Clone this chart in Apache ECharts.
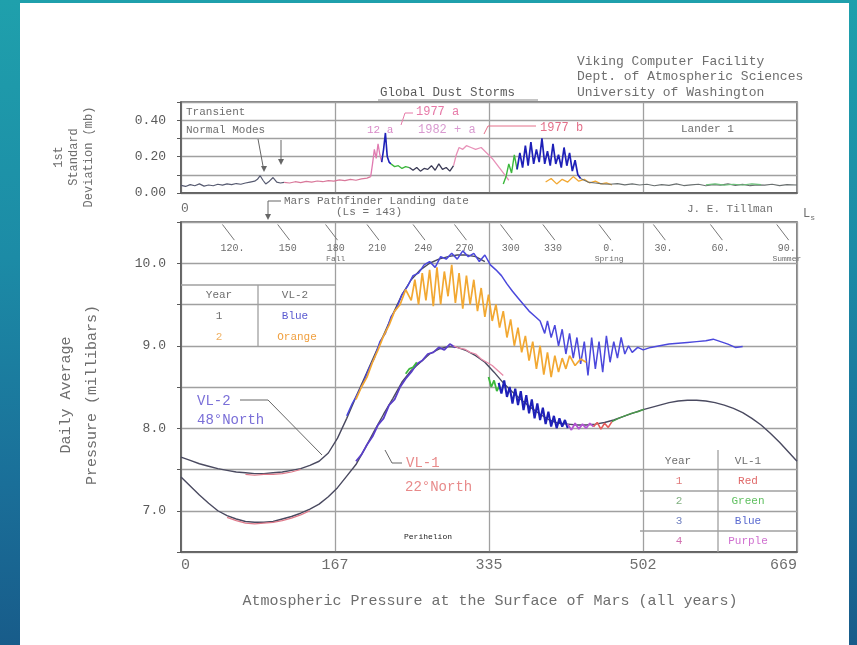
<!DOCTYPE html>
<html><head><meta charset="utf-8">
<script src="https://cdn.jsdelivr.net/npm/echarts@6/dist/echarts.min.js"></script>
<style>
html,body{margin:0;padding:0;width:857px;height:645px;overflow:hidden;}
body{background:linear-gradient(180deg,#1fa0ac 0%,#1c8ba6 40%,#1a6f99 75%,#185c8a 100%);position:relative;}
#paper{position:absolute;left:20px;top:3px;width:829px;height:642px;background:#fff;}
#chart{position:absolute;left:0;top:0;width:857px;height:645px;}
</style></head><body>
<div id="paper"></div><div id="chart"></div>
<script>
// ---------- data ----------
const solMax = 669;
const lsSols = [56, 116, 168, 213, 263, 308, 358, 404, 465, 524, 586, 658];
const lsLabels = ['120.', '150', '180', '210', '240', '270', '300', '330', '0.', '30.', '60.', '90.'];
const lsSeasons = ['', '', 'Fall', '', '', '', '', '', 'Spring', '', '', 'Summer'];

// VL-2 (48 N) daily average pressure, mb
const vl2BaseSol = [0,10,20,30,40,50,60,70,80,90,100,110,120,130,140,150,160,170,180,190,200,210,220,230,240,250,260,270,280,290,300,310,320,330];
const vl2BaseP = [7.65,7.61,7.57,7.54,7.51,7.49,7.47,7.46,7.45,7.45,7.46,7.47,7.49,7.51,7.55,7.60,7.70,7.88,8.12,8.38,8.63,8.88,9.13,9.38,9.62,9.80,9.92,10.0,10.05,10.08,10.1,10.1,10.08,10.02];
const vl2PinkSol = [70,80,90,100,110,120,130];
const vl2PinkP = [7.44,7.43,7.44,7.44,7.45,7.47,7.5];
const vl2Year1Sol = [180,186,192,198,204,210,216,222,228,234,240,246,252,258,264,270,276,282,288,294,300,306,312,318,324,330,336,342,348,354,360,366,372,378,384,390,395,398,402,406,410,414,418,422,426,430,434,438,442,446,450,454,458,462,466,470,474,478,482,486,490,496,502,510,520,530,540,550,560,570,578,586,594,602,610];
const vl2Year1P = [8.15,8.3,8.42,8.55,8.72,8.85,9.05,9.15,9.35,9.45,9.62,9.72,9.85,9.88,9.98,10.02,9.95,10.08,10.05,10.12,10.05,10.15,10.08,10.12,10.02,10.1,9.98,9.92,9.85,9.75,9.66,9.58,9.5,9.42,9.36,9.3,9.15,9.3,9.1,9.25,9.0,9.2,8.9,9.15,8.85,9.1,8.78,9.05,8.64,9.1,8.72,9.05,8.68,9.12,8.8,9.05,8.85,9.1,8.9,9.0,8.92,8.98,8.95,8.98,9.0,9.02,9.03,9.04,9.05,9.06,9.08,9.05,9.02,8.98,8.99];
const vl2Year2Sol = [190,196,202,208,214,220,226,232,238,244,250,254,258,262,266,270,274,278,282,286,290,294,298,302,306,310,314,318,322,326,330,334,338,342,346,350,354,358,362,366,370,374,378,382,386,390,394,398,402,406,410,414,418,422,428,434,440];
const vl2Year2P = [8.35,8.5,8.62,8.8,8.95,9.12,9.25,9.42,9.5,9.68,9.55,9.8,9.5,9.88,9.55,9.92,9.48,9.95,9.5,9.9,9.6,9.98,9.52,9.88,9.45,9.85,9.5,9.8,9.42,9.7,9.35,9.62,9.3,9.5,9.22,9.42,9.1,9.32,9.0,9.22,8.92,9.12,8.82,9.05,8.72,9.0,8.65,8.92,8.62,8.88,8.68,8.85,8.72,8.88,8.76,8.84,8.8];

// VL-1 (22 N)
const vl1BaseSol = [0,10,20,30,40,50,60,70,80,90,100,110,120,130,140,150,160,170,180,190,200,210,220,230,240,250,260,270,280,290,300,310,320,330,340,350,360,370,380,390,400,410,420,430,440,450,460,470,480,490,500,510,520,530,540,550,560,570,580,590,600,610,620,630,640,650,660,669];
const vl1BaseP = [7.41,7.3,7.19,7.09,7.0,6.94,6.9,6.87,6.86,6.86,6.87,6.9,6.93,6.97,7.02,7.08,7.17,7.28,7.42,7.56,7.76,7.97,8.17,8.36,8.56,8.7,8.8,8.9,8.96,8.99,8.98,8.94,8.88,8.8,8.68,8.55,8.44,8.34,8.25,8.17,8.1,8.06,8.05,8.04,8.04,8.05,8.07,8.1,8.14,8.18,8.22,8.25,8.28,8.31,8.33,8.34,8.34,8.33,8.31,8.28,8.24,8.19,8.12,8.04,7.94,7.83,7.71,7.6];
const vl1PinkSol = [50,60,70,80,90,100,110,120,130,140];
const vl1PinkP = [6.92,6.88,6.85,6.84,6.85,6.86,6.88,6.91,6.95,7.0];
const vl1PurpleASol = [190,196,202,208,214,220,226,232,238,244,250,256,262,268,274,280,286,292,298];
const vl1PurpleAP = [7.6,7.68,7.8,7.9,8.04,8.12,8.28,8.35,8.5,8.6,8.68,8.78,8.82,8.9,8.92,8.98,8.95,9.02,8.98];
const vl1GreenASol = [244,248,252,256];
const vl1GreenAP = [8.66,8.72,8.74,8.8];
const vl1RedASol = [296,302,308,314,320,326,332,338,344,350];
const vl1RedAP = [9.0,8.97,8.96,8.92,8.9,8.84,8.8,8.76,8.7,8.64];
const vl1GreenBSol = [334,337,340,343,346];
const vl1GreenBP = [8.62,8.5,8.58,8.45,8.52];
const vl1BlueSol = [345,348,351,354,357,360,363,366,369,372,375,378,381,384,387,390,393,396,399,402,405,408,411,414,417,420];
const vl1BlueP = [8.55,8.42,8.58,8.38,8.5,8.3,8.48,8.28,8.45,8.22,8.4,8.18,8.35,8.12,8.3,8.1,8.25,8.05,8.2,8.02,8.15,8.0,8.12,8.02,8.1,8.0];
const vl1PurpleBSol = [420,424,428,432,436,440,444,448];
const vl1PurpleBP = [8.05,7.98,8.06,7.99,8.05,8.0,8.06,8.02];
const vl1RedBSol = [448,452,456,460,464,468];
const vl1RedBP = [8.02,8.07,7.99,8.06,8.01,8.08];
const vl1GreenCSol = [468,475,482,489,496,503];
const vl1GreenCP = [8.08,8.12,8.15,8.18,8.2,8.23];

// Lander 1 standard deviation, mb
const stdGrayASol = [0,5,10,15,20,25,30,35,40,45,50,55,60,65,70,75,80,83,86,89,92,96,100,104,108,112];
const stdGrayAV = [.042,.036,.046,.04,.05,.038,.044,.04,.048,.043,.05,.046,.052,.048,.055,.06,.065,.075,.095,.07,.05,.065,.085,.06,.055,.058];
const stdRedSol = [112,118,124,130,136,142,148,154,160,166,172,178,184,190,196,202,206];
const stdRedV = [.058,.055,.062,.057,.064,.06,.066,.062,.068,.065,.072,.068,.075,.07,.078,.082,.09];
const stdPinkASol = [206,208,210,212,214,216,218];
const stdPinkAV = [.09,.16,.24,.19,.27,.21,.17];
const stdBlueASol = [218,220,222,224,226,228];
const stdBlueAV = [.17,.24,.33,.2,.17,.16];
const stdGreenASol = [228,232,236,240,244,248];
const stdGreenAV = [.16,.145,.15,.135,.145,.14];
const stdDarkSol = [248,252,256,260,264,268,272,276,280,284,288,292,296];
const stdDarkV = [.14,.125,.14,.12,.135,.13,.15,.125,.16,.13,.14,.12,.15];
const stdPinkBSol = [296,299,302,306,310,315,320,326,332,338,344,350,356];
const stdPinkBV = [.15,.21,.25,.24,.26,.25,.24,.25,.22,.19,.15,.11,.07];
const stdGreenBSol = [350,353,356,359,362,365];
const stdGreenBV = [.05,.09,.16,.11,.21,.13];
const stdBlueBSol = [365,368,371,374,377,380,383,386,389,392,395,398,401,404,407,410,413,416,419,422,425,428,431,434];
const stdBlueBV = [.13,.22,.14,.26,.15,.28,.16,.24,.17,.3,.16,.23,.15,.27,.16,.21,.14,.25,.15,.22,.12,.18,.1,.08];
const stdOrangeSol = [396,402,408,414,420,426,432,438,444,450,456,462,468];
const stdOrangeV = [.06,.08,.05,.075,.06,.09,.065,.075,.055,.065,.05,.055,.045];
const stdGrayBSol = [434,442,450,458,466,474,482,490,498,506,514,522,530,538,546,554,562,570,578,586,594,602,610,618,626,634,642,650,658,669];
const stdGrayBV = [.08,.06,.055,.05,.048,.052,.045,.05,.044,.048,.04,.046,.042,.05,.041,.045,.048,.04,.046,.043,.05,.042,.047,.04,.045,.043,.048,.041,.046,.044];
const stdGreenCSol = [570,580,590,600,610,620,630];
const stdGreenCV = [.045,.05,.043,.048,.044,.05,.046];

// ---------- chart ----------
const FONT = '"Liberation Mono","DejaVu Sans Mono",monospace';
const GRID = '#a0a0a0', BOX = '#5a5a5a', TXT = '#6e6e6e';
const C = {base:'#4a4a60', blue:'#4b48dc', orange:'#f2a832', red:'#e35b5b', green:'#3cb83c', dblue:'#1e20b8', purple:'#b455d2', pink:'#e88aa8'};

function mk(sols, vals, color, panel, width) {
  return {type:'line', xAxisIndex: panel, yAxisIndex: panel, silent:true, showSymbol:false,
    data: sols.map((s,i)=>[s, vals[i]]), lineStyle:{color:color, width: width||1.3}};
}
function T(text, x, y, size, color, align, extra) {
  return Object.assign({type:'text', x:x, y:y, silent:true, z:50,
    style:{text:text, fill:color||TXT, font: (size||11)+'px '+FONT, textAlign: align||'left', textVerticalAlign:'middle', verticalAlign:'middle'}}, extra||{});
}
function Ln(x1,y1,x2,y2,color,w){ return {type:'line', silent:true, z:50, shape:{x1,y1,x2,y2}, style:{stroke:color||'#777', lineWidth:w||1}}; }
function PL(pts,color,w){ return {type:'polyline', silent:true, z:50, shape:{points:pts}, style:{stroke:color||'#777', lineWidth:w||1, fill:null}}; }
function Arrow(x,y,color){ return {type:'polygon', silent:true, z:50, shape:{points:[[x-3,y-6],[x+3,y-6],[x,y]]}, style:{fill:color||'#666'}}; }

const chart = echarts.init(document.getElementById('chart'), null, {renderer:'canvas'});
const axisLabelBase = {color:TXT, fontFamily:FONT};
const option = {
  animation:false,
  backgroundColor:'transparent',
  grid:[
    {left:181, top:102, width:616, height:91, show:true, borderColor:BOX, borderWidth:1.5},
    {left:181, top:222, width:616, height:330, show:true, borderColor:BOX, borderWidth:1.5}
  ],
  xAxis:[
    {gridIndex:0, type:'value', min:0, max:solMax, interval:167.25,
     axisLine:{show:true, lineStyle:{color:BOX, width:1.5}}, axisTick:{show:false},
     splitLine:{show:true, lineStyle:{color:GRID, width:1.3}},
     axisLabel:Object.assign({}, axisLabelBase, {fontSize:13, margin:9, alignMinLabel:'left', formatter:v=>v===0?'0':''})},
    {gridIndex:1, type:'value', min:0, max:solMax, interval:167.25,
     axisLine:{show:true, lineStyle:{color:BOX, width:1.5}}, axisTick:{show:false},
     splitLine:{show:true, lineStyle:{color:GRID, width:1.3}},
     axisLabel:Object.assign({}, axisLabelBase, {fontSize:15, margin:6, alignMinLabel:'left', alignMaxLabel:'right', formatter:v=>String(Math.round(v))})},
    {gridIndex:1, type:'value', position:'top', min:0, max:solMax,
     axisLine:{show:false}, axisTick:{show:false}, splitLine:{show:false},
     axisLabel:{inside:true, margin:21, customValues: lsSols, color:TXT, verticalAlign:'top',
       formatter:(v)=>{const i=lsSols.indexOf(v); if(i<0) return ''; return '{a|'+lsLabels[i]+'}'+(lsSeasons[i]?'\n{b|'+lsSeasons[i]+'}':'');},
       rich:{a:{fontFamily:FONT, fontSize:10, lineHeight:11, color:TXT}, b:{fontFamily:FONT, fontSize:8, lineHeight:9, color:TXT}}}}
  ],
  yAxis:[
    {gridIndex:0, type:'value', min:0, max:0.5, interval:0.1,
     axisLine:{show:true, lineStyle:{color:BOX, width:1.5}}, axisTick:{show:true, length:4, lineStyle:{color:BOX}},
     splitLine:{show:true, lineStyle:{color:GRID, width:1.3}},
     axisLabel:Object.assign({}, axisLabelBase, {fontSize:13, margin:15, color:'#5a5a5a', formatter:v=>{const k=Math.round(v*10); return (k%2===0 && k<5)? (k/10).toFixed(2):'';}})},
    {gridIndex:1, type:'value', min:6.5, max:10.5, interval:0.5,
     axisLine:{show:true, lineStyle:{color:BOX, width:1.5}}, axisTick:{show:true, length:4, lineStyle:{color:BOX}},
     splitLine:{show:true, lineStyle:{color:GRID, width:1.3}},
     axisLabel:Object.assign({}, axisLabelBase, {fontSize:13, margin:15, color:'#5a5a5a', formatter:v=>Math.abs(v-Math.round(v))<1e-6? v.toFixed(1):''})}
  ],
  series:[
    // Ls slanted ticks
    {type:'lines', coordinateSystem:'cartesian2d', xAxisIndex:1, yAxisIndex:1, silent:true,
     data: lsSols.map(s=>({coords:[[s-11,10.47],[s+2,10.28]]})), lineStyle:{color:'#777', width:1, opacity:1}},
    // top panel
    mk(stdGrayASol, stdGrayAV, '#565a70', 0, 1.2),
    mk(stdRedSol, stdRedV, '#d9789a', 0, 1.2),
    mk(stdPinkASol, stdPinkAV, '#e07ab0', 0, 1.3),
    mk(stdBlueASol, stdBlueAV, C.dblue, 0, 1.6),
    mk(stdGreenASol, stdGreenAV, C.green, 0, 1.3),
    mk(stdDarkSol, stdDarkV, '#3a3a55', 0, 1.3),
    mk(stdPinkBSol, stdPinkBV, '#e891b8', 0, 1.3),
    mk(stdOrangeSol, stdOrangeV, C.orange, 0, 1.3),
    mk(stdGrayBSol, stdGrayBV, '#6a7070', 0, 1.2),
    mk(stdGreenCSol, stdGreenCV, '#6cbf7a', 0, 1.2),
    mk(stdGreenBSol, stdGreenBV, C.green, 0, 1.4),
    mk(stdBlueBSol, stdBlueBV, C.dblue, 0, 1.7),
    // bottom panel VL-2
    mk(vl2BaseSol, vl2BaseP, C.base, 1, 1.4),
    mk(vl2PinkSol, vl2PinkP, '#e07a8a', 1, 1.2),
    mk(vl2Year1Sol, vl2Year1P, C.blue, 1, 1.5),
    mk(vl2Year2Sol, vl2Year2P, C.orange, 1, 1.7),
    // VL-1
    mk(vl1BaseSol, vl1BaseP, C.base, 1, 1.4),
    mk(vl1PinkSol, vl1PinkP, '#e07a8a', 1, 1.2),
    mk(vl1PurpleASol, vl1PurpleAP, '#5a3fc8', 1, 1.8),
    mk(vl1GreenASol, vl1GreenAP, C.green, 1, 1.7),
    mk(vl1RedASol, vl1RedAP, C.pink, 1, 1.3),
    mk(vl1GreenBSol, vl1GreenBP, C.green, 1, 1.8),
    mk(vl1BlueSol, vl1BlueP, C.dblue, 1, 2.1),
    mk(vl1PurpleBSol, vl1PurpleBP, C.purple, 1, 1.8),
    mk(vl1RedBSol, vl1RedBP, C.red, 1, 1.6),
    mk(vl1GreenCSol, vl1GreenCP, '#4a9a4a', 1, 1.4)
  ],
  graphic:[
    // header text
    T('Viking Computer Facility', 577, 62, 13),
    T('Dept. of Atmospheric Sciences', 577, 77, 13),
    T('University of Washington', 577, 93, 13),
    T('Global Dust Storms', 380, 93, 12.5, '#5a5a5a'),
    Ln(378, 100, 538, 100, '#8a8a8a', 1),
    // top panel annotations
    T('Transient', 186, 112, 11),
    T('Normal Modes', 186, 130, 11),
    Ln(258, 139, 263, 166, '#666', 1), Arrow(264, 172, '#666'),
    Ln(281, 140, 281, 159, '#666', 1), Arrow(281, 165, '#666'),
    T('1977 a', 416, 112, 12, '#e77aa8'),
    PL([[401,125],[405,113],[413,113]], '#e77aa8', 1),
    T('12 a', 367, 130, 11, '#d98ac8'),
    T('1982 + a', 418, 130, 12, '#d99ad0'),
    T('1977 b', 540, 128, 12, '#e4708a'),
    PL([[484,134],[488,126],[536,126]], '#e4708a', 1),
    T('Lander 1', 681, 129, 11),
    // pathfinder
    T('Mars Pathfinder Landing date', 284, 201, 11),
    T('(Ls = 143)', 336, 212, 11),
    PL([[281,201],[268,201],[268,214]], '#666', 1), Arrow(268, 220, '#666'),
    T('J. E. Tillman', 687, 209, 11),
    {type:'text', x:803, y:214, silent:true, z:50, style:{text:'{a|L}{b|s}', rich:{a:{fontSize:12, fontFamily:FONT, fill:TXT}, b:{fontSize:8, fontFamily:FONT, fill:TXT, padding:[8,0,0,0]}}, verticalAlign:'middle'}},
    // axis titles
    T('1st\nStandard\nDeviation (mb)', 74, 157, 12, TXT, 'center', {rotation:Math.PI/2, style:{text:'1st\nStandard\nDeviation (mb)', fill:TXT, font:'12px '+FONT, textAlign:'center', verticalAlign:'middle', textVerticalAlign:'middle', lineHeight:15}}),
    T('Daily Average\nPressure (millibars)', 79, 395, 15, TXT, 'center', {rotation:Math.PI/2, style:{text:'Daily Average\nPressure (millibars)', fill:TXT, font:'15px '+FONT, textAlign:'center', verticalAlign:'middle', textVerticalAlign:'middle', lineHeight:26}}),
    T('Atmospheric Pressure at the Surface of Mars (all years)', 490, 601, 15, TXT, 'center'),
    // curve labels
    T('VL-2', 197, 401, 14, '#7a6fd8'),
    T('48\u00b0North', 197, 420, 14, '#7a6fd8'),
    PL([[240,400],[268,400],[322,455]], '#666', 1),
    T('VL-1', 406, 463, 14, '#e88a8a'),
    T('22\u00b0North', 405, 487, 14, '#e88a8a'),
    PL([[385,450],[392,463],[402,463]], '#666', 1),
    T('Perihelion', 428, 537, 8, '#222', 'center'),
    // VL-2 table
    Ln(181, 285, 335, 285, GRID, 1.3), Ln(258, 285, 258, 347, GRID, 1.3),
    T('Year', 219, 295, 11, TXT, 'center'), T('VL-2', 295, 295, 11, TXT, 'center'),
    T('1', 219, 316, 11, TXT, 'center'), T('Blue', 295, 316, 11, '#5a5ad0', 'center'),
    T('2', 219, 337, 11, '#f0b060', 'center'), T('Orange', 297, 337, 11, '#f0a040', 'center'),
    // VL-1 table
    Ln(718, 450, 718, 552, GRID, 1.3), Ln(640, 491, 797, 491, GRID, 1.3), Ln(640, 531, 797, 531, GRID, 1.3),
    T('Year', 678, 461, 11, TXT, 'center'), T('VL-1', 748, 461, 11, TXT, 'center'),
    T('1', 679, 481, 11, '#e07a7a', 'center'), T('Red', 748, 481, 11, '#e06a6a', 'center'),
    T('2', 679, 501, 11, '#80b080', 'center'), T('Green', 748, 501, 11, '#60c060', 'center'),
    T('3', 679, 521, 11, '#7080c0', 'center'), T('Blue', 748, 521, 11, '#5a6ad0', 'center'),
    T('4', 679, 541, 11, '#d070b0', 'center'), T('Purple', 748, 541, 11, '#d070d0', 'center')
  ]
};
chart.setOption(option);
</script></body></html>
